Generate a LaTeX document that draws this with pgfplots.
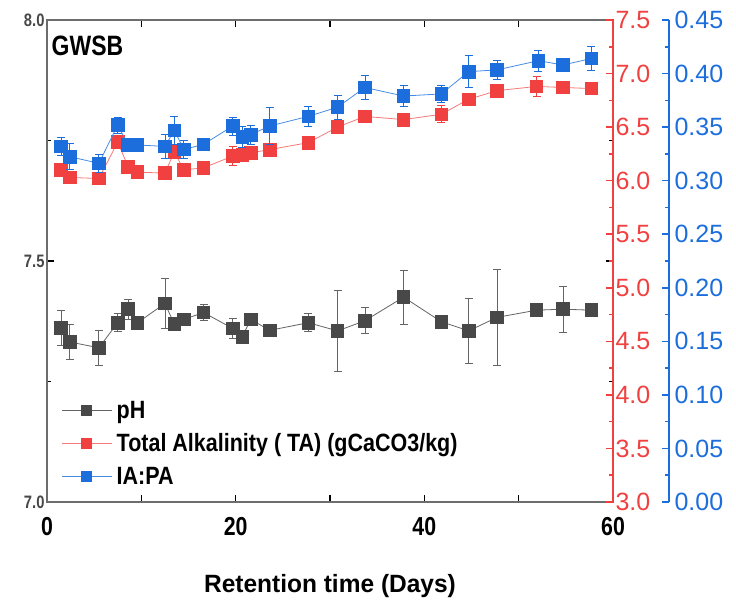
\documentclass[border=0pt]{standalone}
\usepackage{fontspec}
\setmainfont{Liberation Sans}
\newfontfamily\condfont{Liberation Sans}[FakeStretch=0.82]
\newfontfamily\legfont{Liberation Sans}[FakeStretch=0.86]
\newfontfamily\labfont{Liberation Sans}[FakeStretch=0.98]
\usepackage{pgfplots}
\usepackage{pgfplotstable}
\pgfplotsset{compat=1.18}
\definecolor{myred}{RGB}{240,64,64}
\definecolor{myblue}{RGB}{28,110,220}
\definecolor{mygray}{RGB}{72,72,72}
\definecolor{redline}{RGB}{246,120,120}
\definecolor{blueline}{RGB}{70,140,230}
\definecolor{grayline}{RGB}{100,100,100}

\pgfplotstableread{
x y e
1.5 7.361 0.036
2.4 7.332 0.036
5.5 7.320 0.036
7.5 7.372 0.019
8.6 7.400 0.021
9.6 7.372 0.005
12.5 7.412 0.052
13.5 7.369 0.010
14.5 7.379 0.008
16.6 7.393 0.016
19.7 7.360 0.020
20.7 7.343 0.008
21.6 7.379 0.005
23.6 7.356 0.005
27.7 7.372 0.019
30.8 7.355 0.085
33.7 7.376 0.027
37.8 7.425 0.056
41.8 7.374 0.006
44.7 7.355 0.067
47.7 7.383 0.100
51.9 7.398 0.006
54.7 7.400 0.048
57.7 7.398 0.006
}\phdata

\pgfplotstableread{
x y e
1.5 6.10 0.03
2.4 6.03 0.03
5.5 6.02 0.03
7.5 6.36 0.03
8.6 6.13 0.03
9.6 6.08 0.02
12.5 6.07 0.02
13.5 6.27 0.03
14.5 6.10 0.03
16.6 6.12 0.05
19.7 6.23 0.09
20.7 6.24 0.03
21.6 6.26 0.03
23.6 6.29 0.03
27.7 6.355 0.03
30.8 6.50 0.05
33.7 6.60 0.04
37.8 6.57 0.06
41.8 6.62 0.08
44.7 6.76 0.03
47.7 6.84 0.03
51.9 6.88 0.095
54.7 6.87 0.03
57.7 6.86 0.03
}\tadata

\pgfplotstableread{
x y e
1.5 0.332 0.0085
2.4 0.3224 0.012
5.5 0.3162 0.0085
7.5 0.352 0.0075
8.6 0.3333 0.004
9.6 0.3333 0.004
12.5 0.332 0.011
13.5 0.347 0.013
14.5 0.329 0.0085
16.6 0.334 0.003
19.7 0.351 0.0085
20.7 0.341 0.010
21.6 0.343 0.009
23.6 0.351 0.017
27.7 0.360 0.009
30.8 0.3686 0.011
33.7 0.387 0.011
37.8 0.379 0.010
41.8 0.381 0.008
44.7 0.4018 0.015
47.7 0.4034 0.009
52.1 0.412 0.010
54.7 0.408 0.003
57.7 0.414 0.011
}\iadata

\begin{document}
\begin{tikzpicture}
\useasboundingbox (-47pt,-100pt) rectangle (689pt,502pt);
\pgfplotsset{
  base/.style={scale only axis, width=566pt, height=482pt, xmin=0, xmax=60,
    at={(0pt,0pt)}, anchor=south west, tick align=inside,
    major tick length=7pt, minor tick length=4pt,
    /pgf/number format/assume math mode=true},
  ebar/.style={error bars/.cd, y dir=both, y explicit,
    error bar style={line width=0.8pt, #1},
    error mark options={rotate=90, mark size=4pt, line width=0.8pt, #1}},
}
% pH axis
\begin{axis}[base, ymin=7, ymax=8,
  xtick={0,10,...,60}, xticklabels={0,,20,,40,,60},
  ytick={7,7.5,8}, minor ytick={7.25,7.75},
  x axis line style={black, line width=2.5pt},
  y axis line style={mygray!80, line width=2.5pt},
  every tick/.style={black, line width=1.2pt},
  yticklabel style={/pgf/number format/fixed, /pgf/number format/fixed zerofill, /pgf/number format/precision=1,
    text=mygray, font=\condfont\bfseries\fontsize{18}{18}\selectfont, xshift=1pt},
  xticklabel style={font=\condfont\bfseries\fontsize{26}{26}\selectfont, anchor=center, yshift=-25pt},
  xlabel={Retention time (Days)},
  xlabel style={font=\labfont\bfseries\fontsize{25}{27}\selectfont, at={(axis description cs:0.5,-0.174)}, anchor=center},
  legend style={at={(rel axis cs:0.026,0.212)}, anchor=north west, draw=none, fill=none,
    font=\legfont\bfseries\fontsize{25}{25}\selectfont, row sep=12pt, inner sep=0pt,
    nodes={inner xsep=4pt, inner ysep=1pt}},
  legend cell align=left,
  legend image code/.code={\draw[mark repeat=2, mark phase=2, #1, mark size=5pt] plot coordinates {(0pt,0pt) (24pt,0pt) (50pt,0pt)};},
]
\addplot[grayline, line width=0.8pt, mark=square*, mark size=6.3pt,
  mark options={fill=mygray, draw=mygray, solid}, ebar=grayline]
  table[x=x, y=y, y error=e] {\phdata};
\addlegendentry{pH}
\addlegendimage{redline, line width=0.8pt, mark=square*, mark options={fill=myred, draw=myred}}
\addlegendentry{Total Alkalinity ( TA) (gCaCO3/kg)}
\addlegendimage{blueline, line width=0.8pt, mark=square*, mark options={fill=myblue, draw=myblue}}
\addlegendentry{IA:PA}
\node[anchor=north west, inner sep=0pt, font=\condfont\bfseries\fontsize{28}{28}\selectfont] at (rel axis cs:0.008,0.968) {GWSB};
\end{axis}
% TA axis
\begin{axis}[base, ymin=3, ymax=7.5, hide x axis, axis y line*=right,
  ytick={3,3.5,...,7.5}, minor ytick={3.25,3.75,...,7.25},
  y axis line style={myred, line width=2.5pt},
  every tick/.style={myred, line width=1.5pt},
  yticklabel style={/pgf/number format/fixed, /pgf/number format/fixed zerofill, /pgf/number format/precision=1,
    text=myred, font=\fontsize{25}{25}\selectfont, xshift=-1pt},
]
\addplot[redline, line width=0.8pt, mark=square*, mark size=6.3pt,
  mark options={fill=myred, draw=myred, solid}, ebar=myred]
  table[x=x, y=y, y error=e] {\tadata};
\end{axis}
% IA:PA data
\begin{axis}[base, ymin=0, ymax=0.45, hide axis]
\addplot[blueline, line width=0.8pt, mark=square*, mark size=6.3pt,
  mark options={fill=myblue, draw=myblue, solid}, ebar=myblue]
  table[x=x, y=y, y error=e] {\iadata};
\end{axis}
% IA:PA axis
\begin{axis}[base, at={(56pt,0pt)}, ymin=0, ymax=0.45, hide x axis, axis y line*=right,
  ytick={0,0.05,...,0.45}, minor ytick={0.025,0.075,...,0.425},
  y axis line style={myblue, line width=2pt},
  every tick/.style={myblue, line width=1.5pt},
  yticklabel style={/pgf/number format/fixed, /pgf/number format/fixed zerofill, /pgf/number format/precision=2,
    text=myblue, font=\fontsize{25}{25}\selectfont, xshift=2pt},
]
\end{axis}
\end{tikzpicture}
\end{document}
